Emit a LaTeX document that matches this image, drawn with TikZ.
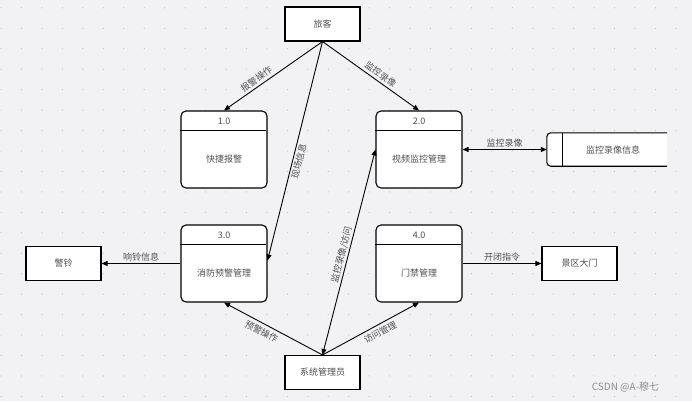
\documentclass[tikz,border=0pt]{standalone}
\usepackage{fontspec}
\setmainfont{Noto Sans CJK SC}
\usetikzlibrary{arrows.meta}
\definecolor{bg}{HTML}{F2F2F4}
\definecolor{txt}{HTML}{505050}
\definecolor{dotc}{HTML}{BDBDC2}

\begin{document}
\begin{tikzpicture}[x=1pt,y=-1pt, font=\fontsize{9}{11}\selectfont, text=txt,
  >={Triangle[length=6pt,width=5pt]},
  ext/.style={draw=black, line width=1.1pt, fill=white, minimum width=75pt, minimum height=34pt, inner sep=0pt},
  proc/.style={draw=black, line width=1.1pt, fill=white, rounded corners=5pt, minimum width=86pt, minimum height=77pt, inner sep=0pt},
  flow/.style={line width=0.9pt, draw=black},
  lbl/.style={midway, inner sep=1.5pt}]
% background and dot grid
\fill[bg] (0,0) rectangle (692,401);
\foreach \i in {0,...,33}
  \foreach \j in {0,...,19}
    \fill[dotc] (1+20.45*\i,7.85+20.45*\j) circle (0.6pt);

% external entities
\node[ext] (tourist) at (322.5,24) {旅客};
\node[ext] (admin) at (322.5,372.5) {系统管理员};
\node[ext] (bell) at (63.5,263.5) {警铃};
\node[ext] (gate) at (579.5,263.5) {景区大门};

% processes
\foreach \n/\x/\y/\num/\txt in {p1/224/149.5/1.0/快捷报警, p2/419/149.5/2.0/视频监控管理,
                                p3/224/263.5/3.0/消防预警管理, p4/419/263.5/4.0/门禁管理} {
  \node[proc] (\n) at (\x,\y) {};
  \node (\n-num) at (\x,\y-28) {\num};
  \node (\n-txt) at (\x,\y+10) {\txt};
  \draw[line width=1.1pt] (\n.north west) ++(0,20) -- ++(86,0);
}

% data store
\node[minimum width=120pt, minimum height=33pt, inner sep=0pt] (store) at (607,149.5) {};
\draw[line width=1.1pt, fill=white, rounded corners=4pt]
  (store.north east) -- (store.north west) -- (store.south west) -- (store.south east);
\draw[line width=1.1pt] ([xshift=16pt]store.north west) -- ([xshift=16pt]store.south west);
\node (store-txt) at (613,150) {监控录像信息};

% flows
\draw[flow,<-] (p1.north) -- (tourist.south) node[lbl,sloped,above,pos=0.37,inner sep=2.5pt] (f-alarm) {报警操作};
\draw[flow,->] (tourist.south) -- (p2.north) node[lbl,sloped,above,pos=0.56,inner sep=2.5pt] (f-video) {监控录像};
\draw[flow,<-] ([yshift=3pt]p3.east) -- (tourist.south) node[lbl,sloped,below,pos=0.46] (f-scene) {现场信息};
\draw[flow,<->] (admin.north) -- (p2.west) node[lbl,sloped,above,pos=0.48] (f-access) {监控录像/访问};
\draw[flow,<-] (p3.south) -- (admin.north) node[lbl,sloped,below,pos=0.42,inner sep=3.5pt] (f-warn) {预警操作};
\draw[flow,->] (admin.north) -- (p4.south) node[lbl,sloped,below,pos=0.56,inner sep=3pt] (f-door) {访问管理};
\draw[flow,<-] (bell.east) -- (p3.west) node[lbl,above] (f-ring) {响铃信息};
\draw[flow,<->] (p2.east) -- (store.west) node[lbl,above] (f-store) {监控录像};
\draw[flow,->] (p4.east) -- (gate.west) node[lbl,above] (f-gate) {开闭指令};

% watermark
\node[text=black!45, font=\fontsize{10}{12}\selectfont] (mark) at (625.5,387) {CSDN @A-穆七};
\end{tikzpicture}
\end{document}
